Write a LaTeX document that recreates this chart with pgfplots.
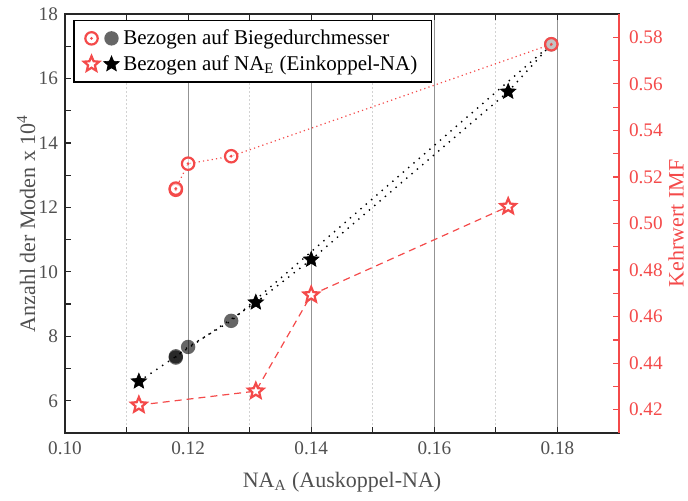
\documentclass[border=0pt]{standalone}
\usepackage{fontspec}
\setmainfont{Liberation Serif}
\usepackage{pgfplots}
\pgfplotsset{compat=1.18}
\definecolor{imfred}{HTML}{F44A4A}
\definecolor{ticktext}{HTML}{505050}

% ring with centre dot
\pgfdeclareplotmark{odot}{%
  \pgfpathcircle{\pgfpointorigin}{\pgfplotmarksize}%
  \pgfusepathqfillstroke
  \begin{pgfscope}
    \pgfsetfillcolor{imfred}\pgfsetfillopacity{1}%
    \pgfpathcircle{\pgfpointorigin}{0.25\pgfplotmarksize}%
    \pgfusepathqfill
  \end{pgfscope}}
% five-pointed star
\pgfdeclareplotmark{fstar}{%
  \pgfpathmoveto{\pgfpointpolar{90}{\pgfplotmarksize}}%
  \pgfpathlineto{\pgfpointpolar{126}{0.45\pgfplotmarksize}}%
  \pgfpathlineto{\pgfpointpolar{162}{\pgfplotmarksize}}%
  \pgfpathlineto{\pgfpointpolar{198}{0.45\pgfplotmarksize}}%
  \pgfpathlineto{\pgfpointpolar{234}{\pgfplotmarksize}}%
  \pgfpathlineto{\pgfpointpolar{270}{0.45\pgfplotmarksize}}%
  \pgfpathlineto{\pgfpointpolar{306}{\pgfplotmarksize}}%
  \pgfpathlineto{\pgfpointpolar{342}{0.45\pgfplotmarksize}}%
  \pgfpathlineto{\pgfpointpolar{18}{\pgfplotmarksize}}%
  \pgfpathlineto{\pgfpointpolar{54}{0.45\pgfplotmarksize}}%
  \pgfpathclose
  \pgfusepathqfillstroke}

\begin{document}
\begin{tikzpicture}[font=\fontsize{9.6}{11.5}\selectfont]
\begin{axis}[
  scale only axis, width=277pt, height=209.5pt,
  xmin=0.10, xmax=0.19, ymin=5, ymax=18,
  xtick={0.10,0.12,0.14,0.16,0.18},
  minor xtick={0.11,0.13,0.15,0.17},
  ytick={6,8,10,12,14,16,18},
  minor ytick={5,7,9,11,13,15,17},
  xtick pos=both, ytick pos=left,
  tick align=inside,
  major tick length=3pt, minor tick length=3pt,
  xmajorgrids, xminorgrids,
  major grid style={gray!85, line width=0.5pt},
  minor grid style={gray!35, line width=0.6pt, dash pattern=on 1pt off 1pt},
  axis line style={black!85, line width=1.1pt},
  tick style={black!85, line width=0.6pt},
  tick label style={ticktext, /pgf/number format/assume math mode=true},
  xticklabel style={yshift=-1pt, /pgf/number format/.cd, fixed, fixed zerofill, precision=2},
  xlabel={NA\textsubscript{A} (Auskoppel-NA)},
  ylabel={Anzahl der Moden x 10\textsuperscript{4}},
  label style={font=\fontsize{11}{13}\selectfont, ticktext},
  xlabel style={at={(axis description cs:0.5,-0.117)}, anchor=center},
  ylabel style={at={(axis description cs:-0.07,0.5)}, anchor=center},
]
% gray circles: related to bending diameter
\addplot[black, line width=0.7pt, dash pattern=on 0.7pt off 2.8pt,
  mark=*, mark size=3.6pt,
  mark options={solid, draw opacity=0, fill=black, fill opacity=0.6}]
  coordinates {(0.118,7.34) (0.118,7.38) (0.120,7.67) (0.127,8.48) (0.179,17.06)};
% black stars: related to NA_E
\addplot[black, line width=0.7pt, dash pattern=on 0.7pt off 2.8pt]
  coordinates {(0.112,6.60) (0.131,9.05) (0.140,10.38) (0.172,15.59) (0.179,17.06)};
\addplot[only marks, mark=fstar, mark size=4.1pt,
  mark options={fill=black, draw=black, line width=0.3pt}]
  coordinates {(0.112,6.60) (0.131,9.05) (0.140,10.38) (0.172,15.59)};
\end{axis}

\begin{axis}[
  scale only axis, width=277pt, height=209.5pt,
  xmin=0.10, xmax=0.19, ymin=0.41, ymax=0.59,
  axis x line=none, axis y line*=right,
  ytick={0.42,0.44,0.46,0.48,0.50,0.52,0.54,0.56,0.58},
  minor ytick={0.43,0.45,0.47,0.49,0.51,0.53,0.55,0.57},
  tick align=inside,
  major tick length=3pt, minor tick length=3pt,
  y axis line style={imfred, line width=1.1pt, -},
  ytick style={imfred, line width=0.6pt},
  yticklabel style={imfred, xshift=1.5pt, /pgf/number format/assume math mode=true,
    /pgf/number format/.cd, fixed, fixed zerofill, precision=2},
  ylabel={Kehrwert IMF},
  ylabel style={font=\fontsize{11}{13}\selectfont, imfred,
    at={(axis description cs:1.103,0.5)}, anchor=center},
  legend style={at={(axis description cs:0.015,0.986)}, anchor=north west,
    draw=black, line width=0.6pt, font=\fontsize{10.5}{12.5}\selectfont,
    row sep=0pt, inner xsep=5pt, inner ysep=2.5pt},
  legend cell align=left,
]
\addplot[forget plot, imfred, line width=0.6pt, dash pattern=on 0.6pt off 1.6pt,
  mark=odot, mark size=3.1pt,
  mark options={solid, line width=1.1pt, draw=imfred, fill=white, fill opacity=0.6}]
  coordinates {(0.118,0.5145) (0.118,0.5150) (0.120,0.5257) (0.127,0.5289) (0.179,0.5770)};
\addplot[forget plot, imfred, line width=0.6pt, dash pattern=on 3.5pt off 2.5pt,
  mark=fstar, mark size=4.0pt,
  mark options={solid, line width=1.1pt, draw=imfred, fill=white}]
  coordinates {(0.112,0.4220) (0.131,0.4280) (0.140,0.4693) (0.172,0.5073)};

\addlegendimage{legend image code/.code={
  \draw[imfred, mark=odot, mark size=3.1pt,
    mark options={line width=1.1pt, fill=white}] plot coordinates {(0pt,0pt)};
  \draw[mark=*, mark size=3.6pt,
    mark options={draw opacity=0, fill=black, fill opacity=0.6}] plot coordinates {(10pt,0pt)};}}
\addlegendentry{Bezogen auf Biegedurchmesser}
\addlegendimage{legend image code/.code={
  \draw[imfred, mark=fstar, mark size=4.0pt,
    mark options={line width=1.1pt, fill=white}] plot coordinates {(0pt,0pt)};
  \draw[mark=fstar, mark size=4.1pt,
    mark options={fill=black, line width=0.3pt}] plot coordinates {(10pt,0pt)};}}
\addlegendentry{Bezogen auf NA\textsubscript{E} (Einkoppel-NA)}
\end{axis}
\pgfresetboundingbox
\path[use as bounding box] (-32.5pt,-33.5pt) rectangle (311.5pt,216.5pt);
\end{tikzpicture}
\end{document}
